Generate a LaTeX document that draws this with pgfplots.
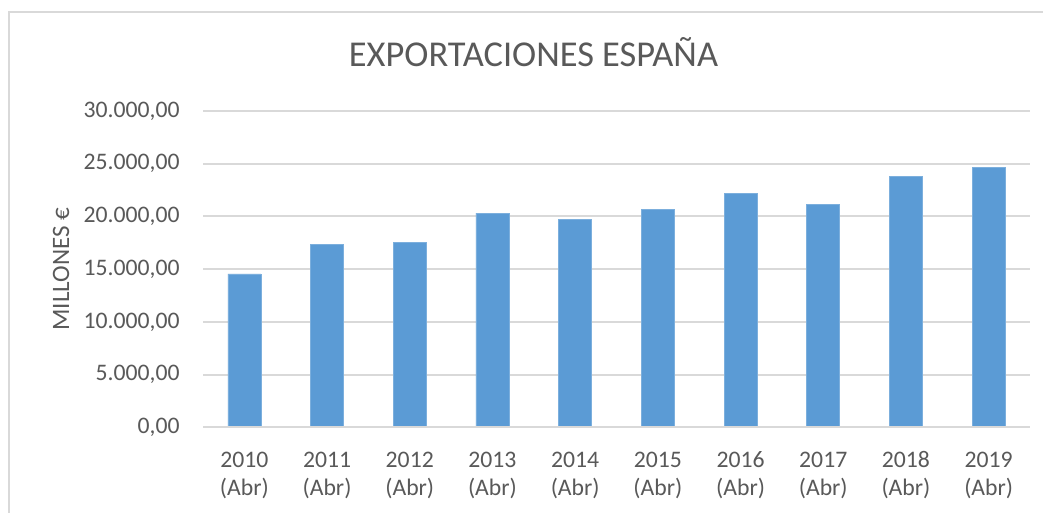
\documentclass[border=0pt]{standalone}
\usepackage{fontspec}
\setmainfont{Carlito}
\usepackage{pgfplots}
\pgfplotsset{compat=1.18}
\definecolor{barblue}{HTML}{5B9BD5}
\definecolor{gridgray}{HTML}{D9D9D9}
\definecolor{txtgray}{HTML}{595959}
\newcommand{\lab}[1]{\rule{0pt}{8pt}#1\\(Abr)}
\begin{document}
\begin{tikzpicture}
\useasboundingbox (0,0) rectangle (521.5pt,256.5pt);
\fill[white] (0,0) rectangle (521.5pt,256.5pt);
\draw[gridgray, line width=1pt] (4.5pt,-10pt) rectangle (540pt,250.5pt);
\node[anchor=base, text=txtgray, font=\fontsize{18.2}{21}\selectfont] at (266.75pt,223.15pt) {EXPORTACIONES ESPAÑA};
\begin{axis}[
  at={(101.5pt,42.75pt)}, anchor=south west,
  scale only axis, width=413.5pt, height=158.25pt,
  xmin=-0.5, xmax=9.5, ymin=0, ymax=30000,
  ytick={0,5000,10000,15000,20000,25000,30000},
  xtick={0,...,9},
  xticklabels={{\lab{2010}},{\lab{2011}},{\lab{2012}},{\lab{2013}},{\lab{2014}},{\lab{2015}},{\lab{2016}},{\lab{2017}},{\lab{2018}},{\lab{2019}}},
  major tick length=0pt,
  axis line style={draw=none},
  axis x line*=bottom, axis y line*=left,
  ymajorgrids, grid style={gridgray, line width=1pt},
  scaled y ticks=false,
  /pgf/number format/fixed, /pgf/number format/fixed zerofill, /pgf/number format/precision=2,
  /pgf/number format/use comma, /pgf/number format/1000 sep={.}, /pgf/number format/assume math mode=true,
  yticklabel style={anchor=east, inner sep=0pt, xshift=-11.5pt, text=txtgray, font=\fontsize{11.85}{14}\selectfont},
  xticklabel style={anchor=north, align=center, inner sep=0pt, yshift=-11.7pt, text=txtgray, font=\fontsize{11.85}{14}\selectfont},
  ylabel={MILLONES €},
  every axis y label/.style={at={(axis description cs:-0.1717,0.5)}, anchor=center, rotate=90, text=txtgray, font=\fontsize{12.5}{14}\selectfont},
  clip=false,
]
\addplot[ybar, bar width=16.5pt, fill=barblue, draw=barblue!80!white, line width=0.3pt] coordinates {
(0,14560) (1,17370) (2,17510) (3,20310) (4,19715) (5,20690) (6,22160) (7,21170) (8,23790) (9,24690)
};
\draw[gridgray, line width=1pt] (axis cs:-0.5,0) -- (axis cs:9.5,0);
\end{axis}
\end{tikzpicture}
\end{document}
